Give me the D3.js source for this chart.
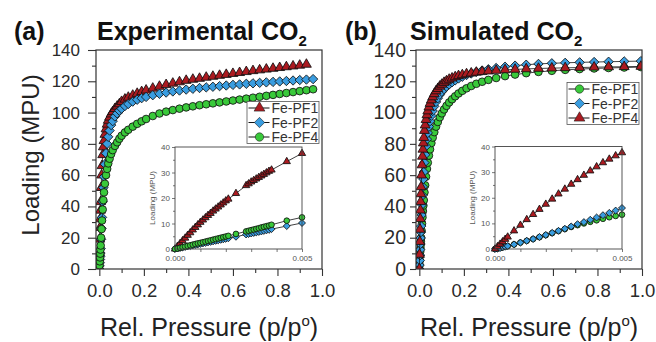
<!DOCTYPE html>
<html>
<head>
<meta charset="utf-8">
<script src="https://cdn.jsdelivr.net/npm/d3@7"></script>
<style>
  body { margin: 0; background: #fff; }
  svg { display: block; font-family: "Liberation Sans", Arial, sans-serif; }
</style>
</head>
<body>
<svg id="chart" width="656" height="342"></svg>
<script>
// ---- experimental CO2 (panel a) ----
const expP = [0, 0.001, 0.002, 0.003, 0.004, 0.005, 0.006, 0.008, 0.010, 0.012, 0.015, 0.018, 0.021, 0.025,
  0.03, 0.035, 0.04, 0.046, 0.053, 0.06, 0.07, 0.08, 0.09, 0.10, 0.115, 0.13, 0.15, 0.17, 0.19, 0.21,
  0.24, 0.27, 0.30, 0.33, 0.36, 0.39, 0.42, 0.45, 0.48, 0.51, 0.54, 0.57, 0.60, 0.63, 0.66, 0.69,
  0.72, 0.75, 0.78, 0.81, 0.84, 0.87, 0.90, 0.93, 0.96];
const expPF1 = [0, 10.5, 19, 26.5, 32, 37.5, 43, 52, 60, 66, 73, 78, 82, 86,
  89.5, 92.5, 95, 97, 99, 100.5, 102.5, 104, 105.5, 107, 108.5, 109.7, 111, 112.2, 113.3, 114.3,
  115.5, 116.7, 117.8, 118.7, 119.6, 120.5, 121.2, 121.8, 122.5, 123.1, 123.7, 124.3, 124.9, 125.5, 126.1, 126.7,
  127.2, 127.7, 128.2, 128.7, 129.2, 129.7, 130.2, 130.8, null];
const expPF2 = [0, 2, 4, 6.1, 8.1, 10.2, 13, 19, 26, 33, 43, 52, 59, 67,
  74, 80, 84.5, 88.5, 92, 94.5, 97.5, 99.5, 101.2, 102.5, 104.2, 105.5, 107, 108.2, 109.2, 110,
  111.1, 112, 112.8, 113.5, 114.1, 114.7, 115.2, 115.7, 116.1, 116.5, 116.9, 117.3, 117.7, 118, 118.4, 118.7,
  119, 119.3, 119.6, 119.9, 120.2, 120.5, 120.8, 121.1, 121.4];
const expPF4 = [0, 2.4, 4.9, 7.4, 9.8, 12.4, 15, 20, 25.5, 31, 38, 44, 49, 54.5,
  60, 64, 67.5, 70.5, 73.5, 76, 78.7, 81, 83.3, 85.2, 87.3, 89, 91, 92.8, 94.4, 95.9,
  97.8, 99.4, 100.6, 101.6, 102.5, 103.3, 104, 104.7, 105.3, 105.9, 106.5, 107.1, 107.7, 108.3, 108.9, 109.5,
  110.1, 110.7, 111.3, 111.9, 112.5, 113.1, 113.7, 114.3, 114.9];

const expInP = [0, 0.0001, 0.0002, 0.0003, 0.0004, 0.0005, 0.0006, 0.0007, 0.0008, 0.0009, 0.0010, 0.0011,
  0.0012, 0.0013, 0.0014, 0.0015, 0.0016, 0.0017, 0.0018, 0.0019, 0.0020, 0.0021, 0.0024, 0.0028,
  0.0029, 0.0030, 0.0031, 0.0032, 0.0033, 0.0034, 0.0035, 0.0036, 0.0037, 0.0038, 0.0044, 0.0050];
const expInPF1 = [0, 1.1, 2.2, 3.3, 4.3, 5.4, 6.4, 7.5, 8.5, 9.5, 10.5, 11.4,
  12.3, 13.2, 14.0, 14.9, 15.7, 16.5, 17.3, 18.1, 18.9, 19.6, 21.8, 24.9,
  25.6, 26.3, 26.9, 27.5, 28.1, 28.7, 29.3, 29.9, 30.5, 31.0, 34.3, 37.5];
const expInPF2 = [0, 0.2, 0.4, 0.6, 0.8, 1.0, 1.2, 1.4, 1.6, 1.8, 2.0, 2.2,
  2.4, 2.6, 2.8, 3.0, 3.2, 3.4, 3.6, 3.8, 4.0, 4.2, 4.8, 5.7,
  5.9, 6.1, 6.3, 6.5, 6.7, 6.9, 7.1, 7.3, 7.5, 7.8, 9.0, 10.2];
const expInPF4 = [0, 0.2, 0.45, 0.7, 0.95, 1.2, 1.45, 1.7, 1.95, 2.2, 2.4, 2.65,
  2.9, 3.15, 3.4, 3.65, 3.9, 4.15, 4.4, 4.65, 4.9, 5.15, 5.9, 6.9,
  7.15, 7.4, 7.65, 7.9, 8.15, 8.45, 8.7, 8.95, 9.2, 9.5, 11.1, 12.4];

// ---- simulated CO2 (panel b) ----
const simP = [0, 0.001, 0.002, 0.003, 0.004, 0.005, 0.006, 0.007, 0.008, 0.010, 0.012, 0.014, 0.016, 0.018,
  0.020, 0.023, 0.026, 0.030, 0.034, 0.038, 0.043, 0.048, 0.054, 0.060, 0.067, 0.075, 0.083, 0.092,
  0.101, 0.111, 0.122, 0.134, 0.147, 0.161, 0.176, 0.193, 0.212, 0.233, 0.256, 0.282, 0.31, 0.345,
  0.385, 0.43, 0.48, 0.535, 0.595, 0.655, 0.72, 0.785, 0.85, 0.92, 0.995];
const simPF1 = [0, 2.5, 5.4, 8.6, 11, 13.3, 15.5, 17.8, 20, 24.5, 29, 33, 37, 40.5,
  44, 49, 53.5, 59, 64, 68, 72.5, 76.5, 80.5, 84, 87.5, 91, 94, 97,
  99.5, 102, 104.3, 106.5, 108.5, 110.4, 112.2, 113.9, 115.5, 117, 118.4, 119.7, 120.9, 122.1,
  123.3, 124.3, 125.2, 126, 126.7, 127.3, 127.8, 128.2, 128.5, 128.8, 129.1];
const simPF2 = [0, 2.5, 5.5, 8.8, 12.3, 16, 19.8, 23.6, 27.4, 34.5, 41, 47, 52.5, 57.5,
  62, 68, 73, 78.5, 83, 87, 91, 94.5, 98, 101, 104, 106.8, 109.2, 111.4,
  113.3, 115, 116.6, 118, 119.4, 120.6, 121.8, 122.9, 124, 125, 126, 126.9, 127.7, 128.5,
  129.3, 130, 130.6, 131.1, 131.5, 131.8, 132.1, 132.3, 132.5, 132.7, 132.9];
const simPF4 = [0, 9.3, 17.5, 25.3, 32.1, 37.6, 43, 48, 52.5, 60, 66.5, 72, 76.5, 80.5,
  84, 88.5, 92, 95.5, 98.5, 101, 103.5, 105.8, 108, 110, 112, 113.8, 115.3, 116.8,
  118, 119.2, 120.2, 121.2, 122, 122.8, 123.5, 124.1, 124.7, 125.2, 125.7, 126.1, 126.5, 126.9,
  127.3, 127.6, 127.9, 128.2, 128.4, 128.6, 128.8, 129, 129.2, 129.3, 129.5];

const simInP = [0, 0.0001, 0.0002, 0.0003, 0.0004, 0.0005, 0.00075, 0.001, 0.00125, 0.0015, 0.00175, 0.002,
  0.00225, 0.0025, 0.00275, 0.003, 0.00325, 0.0035, 0.00375, 0.004, 0.00425, 0.0045, 0.00475, 0.005];
const simInPF1 = [0, 0.2, 0.4, 0.65, 0.9, 1.15, 1.8, 2.5, 3.2, 3.9, 4.6, 5.4,
  6.2, 7.0, 7.8, 8.6, 9.3, 10.0, 10.6, 11.2, 11.8, 12.4, 12.9, 13.4];
const simInPF2 = [0, 0.2, 0.4, 0.65, 0.9, 1.15, 1.8, 2.5, 3.2, 3.9, 4.7, 5.5,
  6.3, 7.1, 7.9, 8.8, 9.7, 10.5, 11.4, 12.3, 13.2, 14.1, 15.0, 16.0];
const simInPF4 = [0, 0.95, 1.9, 2.85, 3.8, 4.7, 7.1, 9.3, 11.5, 13.5, 15.5, 17.5,
  19.5, 21.5, 23.4, 25.3, 27.1, 28.8, 30.5, 32.1, 33.7, 35.1, 36.4, 37.6];

// ---- ticks / labels ----
const yTicks = [0, 20, 40, 60, 80, 100, 120, 140];
const yMinor = [10, 30, 50, 70, 90, 110, 130];
const xTicks = [0, 0.2, 0.4, 0.6, 0.8, 1.0];
const xMinor = [0.1, 0.3, 0.5, 0.7, 0.9];
const inYTicks = [0, 10, 20, 30, 40];
const inYMinor = [5, 15, 25, 35];
const inXTicks = [0, 0.001, 0.002, 0.003, 0.004, 0.005];
const inXLabels = [0, 0.005];

const RED = "#ab1a20", BLUE = "#3a9de0", GREEN = "#39c93a";

const diamond = {
  draw(ctx, size) {
    const r = Math.sqrt(size / 2);
    ctx.moveTo(0, -r); ctx.lineTo(r, 0); ctx.lineTo(0, r); ctx.lineTo(-r, 0); ctx.closePath();
  }
};
const shapes = { tri: d3.symbolTriangle, dia: diamond, cir: d3.symbolCircle };
const sizes = { tri: 42, dia: 44, cir: 46 };

const svg = d3.select("#chart");

function drawSeries(g, x, y, px, py, shape, color, scale) {
  const pts = px.map((p, i) => [p, py[i]]).filter(d => d[1] != null);
  g.append("path")
    .attr("d", d3.line().x(d => x(d[0])).y(d => y(d[1]))(pts))
    .attr("fill", "none").attr("stroke", "#111").attr("stroke-width", 0.8);
  g.selectAll(null).data(pts).enter().append("path")
    .attr("transform", d => `translate(${x(d[0])},${y(d[1])})`)
    .attr("d", d3.symbol().type(shapes[shape]).size(sizes[shape] * scale))
    .attr("fill", color).attr("stroke", "#111").attr("stroke-width", 0.85);
}

function drawPanel(cfg) {
  const g = svg.append("g");
  const x = d3.scaleLinear().domain([-0.015, 1.0]).range([cfg.left, cfg.right]);
  const y = d3.scaleLinear().domain([0, 140]).range([269, 50]);

  const clipId = "clip" + cfg.id;
  svg.append("clipPath").attr("id", clipId).append("rect")
    .attr("x", cfg.left).attr("y", 50).attr("width", cfg.right - cfg.left).attr("height", 219);

  // axes
  const ya = g.append("g").attr("transform", `translate(${cfg.left},0)`)
    .call(d3.axisLeft(y).tickValues(yTicks).tickSize(cfg.yTick).tickPadding(cfg.yPad));
  ya.append("g").call(d3.axisLeft(y).tickValues(yMinor).tickSize(4).tickFormat(""));
  ya.selectAll(".domain").remove();
  ya.selectAll("line").attr("stroke", "#333").attr("stroke-width", 1.1);
  ya.selectAll("text").attr("font-size", cfg.yFont).attr("fill", "#2a2a2a");

  const xa = g.append("g").attr("transform", "translate(0,269)")
    .call(d3.axisBottom(x).tickValues(xTicks).tickSize(7).tickPadding(8).tickFormat(d3.format(".1f")));
  xa.append("g").call(d3.axisBottom(x).tickValues(xMinor).tickSize(4).tickFormat(""));
  xa.selectAll(".domain").remove();
  xa.selectAll("line").attr("stroke", "#333").attr("stroke-width", 1.1);
  xa.selectAll("text").attr("font-size", 18.5).attr("fill", "#2a2a2a");

  // series
  const pg = g.append("g").attr("clip-path", `url(#${clipId})`);
  cfg.series.forEach(s => drawSeries(pg, x, y, cfg.p, s.v, s.shape, s.color, 1));

  g.append("rect").attr("x", cfg.left).attr("y", 50)
    .attr("width", cfg.right - cfg.left).attr("height", 219)
    .attr("fill", "none").attr("stroke", "#333").attr("stroke-width", 1.2);

  // legend
  const lg = g.append("g");
  lg.append("rect").attr("x", cfg.leg[0]).attr("y", cfg.leg[1])
    .attr("width", 72).attr("height", 42)
    .attr("fill", "#fff").attr("stroke", "#555").attr("stroke-width", 0.8);
  cfg.series.forEach((s, i) => {
    const cy = cfg.leg[1] + 6.5 + i * 14.5;
    const lx = cfg.leg[0] + 1.5;
    lg.append("line").attr("x1", lx).attr("x2", lx + 21).attr("y1", cy).attr("y2", cy)
      .attr("stroke", "#111").attr("stroke-width", 1);
    lg.append("path").attr("transform", `translate(${lx + 11},${cy})`)
      .attr("d", d3.symbol().type(shapes[s.shape]).size(sizes[s.shape] * 1.2))
      .attr("fill", s.color).attr("stroke", "#222").attr("stroke-width", 0.6);
    lg.append("text").attr("x", lx + 23).attr("y", cy + 5)
      .attr("font-size", 14).attr("fill", "#333").text(s.name);
  });

  // inset
  const ix = d3.scaleLinear().domain([0, 0.005]).range([cfg.inset[0], cfg.inset[1]]);
  const iy = d3.scaleLinear().domain([0, 40]).range([249, cfg.inset[2]]);
  const ig = g.append("g");
  ig.append("rect").attr("x", cfg.inset[0]).attr("y", cfg.inset[2])
    .attr("width", cfg.inset[1] - cfg.inset[0]).attr("height", 249 - cfg.inset[2])
    .attr("fill", "#fff");
  const iya = ig.append("g").attr("transform", `translate(${cfg.inset[0]},0)`)
    .call(d3.axisLeft(iy).tickValues(inYTicks).tickSize(3).tickPadding(2));
  iya.append("g").call(d3.axisLeft(iy).tickValues(inYMinor).tickSize(2).tickFormat(""));
  const ixa = ig.append("g").attr("transform", "translate(0,249)")
    .call(d3.axisBottom(ix).tickValues(inXTicks).tickSize(3).tickPadding(3)
      .tickFormat(d => inXLabels.includes(d) ? d3.format(".3f")(d) : ""));
  [iya, ixa].forEach(a => {
    a.selectAll(".domain").remove();
    a.selectAll("line").attr("stroke", "#555").attr("stroke-width", 0.8);
    a.selectAll("text").attr("font-size", 8).attr("fill", "#555");
  });
  cfg.inSeries.forEach(s => drawSeries(ig, ix, iy, cfg.inP, s.v, s.shape, s.color, 0.55));
  ig.append("rect").attr("x", cfg.inset[0]).attr("y", cfg.inset[2])
    .attr("width", cfg.inset[1] - cfg.inset[0]).attr("height", 249 - cfg.inset[2])
    .attr("fill", "none").attr("stroke", "#444").attr("stroke-width", 0.9);
  ig.append("text")
    .attr("transform", `translate(${cfg.inset[0] - 20},${(249 + cfg.inset[2]) / 2}) rotate(-90)`)
    .attr("text-anchor", "middle").attr("font-size", 8).attr("fill", "#555").text("Loading (MPU)");

  // x title
  const xt = g.append("text").attr("x", (cfg.left + cfg.right) / 2).attr("y", 336)
    .attr("text-anchor", "middle").attr("font-size", 25).attr("fill", "#222");
  xt.append("tspan").text("Rel. Pressure (p/p");
  xt.append("tspan").attr("font-size", 15).attr("dy", -10).text("o");
  xt.append("tspan").attr("dy", 10).text(")");

  // titles
  g.append("text").attr("x", cfg.tag[0]).attr("y", 40).attr("font-size", 25)
    .attr("font-weight", "bold").attr("fill", "#111").text(cfg.tag[1]);
  const tt = g.append("text").attr("x", cfg.title[0]).attr("y", 39.5).attr("font-size", 25)
    .attr("font-weight", "bold").attr("fill", "#111");
  tt.append("tspan").text(cfg.title[1]);
  tt.append("tspan").attr("font-size", 15).attr("dy", 6).text("2");
}

drawPanel({
  id: "a", left: 96, right: 322, p: expP, yTick: 8, yPad: 8, yFont: 17,
  series: [
    { name: "Fe-PF1", v: expPF1, shape: "tri", color: RED },
    { name: "Fe-PF2", v: expPF2, shape: "dia", color: BLUE },
    { name: "Fe-PF4", v: expPF4, shape: "cir", color: GREEN }
  ],
  leg: [247, 101.5],
  inset: [175, 302, 147], inP: expInP,
  inSeries: [
    { v: expInPF1, shape: "tri", color: RED },
    { v: expInPF2, shape: "dia", color: BLUE },
    { v: expInPF4, shape: "cir", color: GREEN }
  ],
  tag: [14, "(a)"], title: [97, "Experimental CO"]
});

drawPanel({
  id: "b", left: 416, right: 642, p: simP, yTick: 6, yPad: 4, yFont: 19.5,
  series: [
    { name: "Fe-PF1", v: simPF1, shape: "cir", color: GREEN },
    { name: "Fe-PF2", v: simPF2, shape: "dia", color: BLUE },
    { name: "Fe-PF4", v: simPF4, shape: "tri", color: RED }
  ],
  leg: [567, 82.5],
  inset: [495, 622, 146.5], inP: simInP,
  inSeries: [
    { v: simInPF1, shape: "cir", color: GREEN },
    { v: simInPF2, shape: "dia", color: BLUE },
    { v: simInPF4, shape: "tri", color: RED }
  ],
  tag: [345, "(b)"], title: [410, "Simulated CO"]
});

// y title (panel a only)
svg.append("text").attr("transform", "translate(39,155) rotate(-90)")
  .attr("text-anchor", "middle").attr("font-size", 24).attr("fill", "#222").text("Loading (MPU)");
</script>
</body>
</html>
